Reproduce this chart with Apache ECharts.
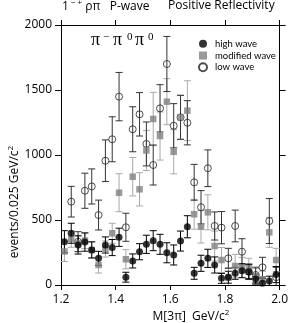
<!DOCTYPE html>
<html><head><meta charset="utf-8">
<script src="https://cdn.jsdelivr.net/npm/echarts@6/dist/echarts.min.js"></script>
<style>html,body{margin:0;padding:0;background:#fff}#c{width:291px;height:323px}</style>
</head><body><div id="c"></div>
<script>
// bin centres (GeV/c^2)
const masses = [1.2125,1.2375,1.2625,1.2875,1.3125,1.3375,1.3625,1.3875,1.4125,1.4375,1.4625,1.4875,1.5125,1.5375,1.5625,1.5875,1.6125,1.6375,1.6625,1.6875,1.7125,1.7375,1.7625,1.7875,1.8125,1.8375,1.8625,1.8875,1.9125,1.9375,1.9625,1.9875];
// high wave (filled circles)
const highWave = [333,398,308,330,270,205,308,288,367,60,185,256,313,341,313,248,231,338,448,90,167,205,154,51,60,90,110,102,46,13,30,80];
const highErr  = [85,77,70,70,62,54,62,62,70,38,54,62,70,77,77,77,77,77,85,46,62,70,62,38,46,46,54,54,38,38,38,62];
// modified wave (grey squares)
const modWave = [258,352,320,342,269,154,277,398,710,198,833,736,1035,1277,1146,1410,1025,1290,1341,544,448,559,300,192,56,146,136,128,64,44,405,192];
const modErr  = [77,62,62,62,62,62,62,77,146,74,148,128,154,205,185,177,170,170,230,115,125,135,115,96,77,90,77,77,62,62,115,90];
// low wave (open circles)
const lowWave = [null,641,333,725,758,538,956,1121,1449,444,1198,1313,1085,923,1359,1700,1225,1290,1248,790,598,898,454,441,205,454,256,102,77,136,492,60];
const lowErr  = [null,118,77,135,135,115,160,173,186,108,173,167,169,154,182,212,170,169,170,138,128,141,108,124,77,122,100,60,60,77,173,77];

const xTicks = [1.2,1.4,1.6,1.8,2.0];
const yTicks = [0,500,1000,1500,2000];

const FONT = 'Open Sans';
const chart = echarts.init(document.getElementById('c'), null, {renderer:'canvas'});

function pts(vals, errs){
  const out=[];
  masses.forEach((m,i)=>{ if(vals[i]!=null) out.push([m, vals[i], errs[i]]); });
  return out;
}
function errSeries(vals, errs, color, z){
  return {
    type:'custom', data: pts(vals, errs), z: z, silent:true, clip:true,
    encode:{x:0,y:1},
    renderItem:function(params, api){
      const x=api.value(0), y=api.value(1), e=api.value(2);
      const t=api.coord([x,y+e]), b=api.coord([x,y-e]);
      const hw=3.5;
      const st={stroke:color,lineWidth:1};
      return {type:'group', children:[
        {type:'line', shape:{x1:t[0],y1:t[1],x2:b[0],y2:b[1]}, style:st},
        {type:'line', shape:{x1:t[0]-hw,y1:t[1],x2:t[0]+hw,y2:t[1]}, style:st},
        {type:'line', shape:{x1:b[0]-hw,y1:b[1],x2:b[0]+hw,y2:b[1]}, style:st}
      ]};
    }
  };
}
function axisX(pos, showLabel){
  return {type:'value', position:pos, min:xTicks[0], max:xTicks[xTicks.length-1], interval:0.2,
    axisLine:{onZero:false, lineStyle:{color:'#000',width:1}},
    axisTick:{show:true, length:5, lineStyle:{color:'#000'}},
    splitLine:{show:false},
    axisLabel:{show:showLabel, color:'#000', fontSize:12, fontFamily:FONT, margin:9, formatter:v=>v.toFixed(1)}};
}
function axisY(pos, showLabel){
  return {type:'value', position:pos, min:yTicks[0], max:yTicks[yTicks.length-1], interval:500,
    axisLine:{show:true, onZero:false, lineStyle:{color:'#000',width:1}},
    axisTick:{show:true, length:6, lineStyle:{color:'#000'}},
    splitLine:{show:false},
    axisLabel:{show:showLabel, color:'#000', fontSize:12, fontFamily:FONT, margin:9, formatter:v=>String(v)}};
}

const option = {
  animation:false,
  backgroundColor:'#fff',
  grid:{left:61, right:7, top:25, bottom:38},
  xAxis:[axisX('bottom',true), axisX('top',false)],
  yAxis:[axisY('left',true), axisY('right',false)],
  legend:{
    orient:'vertical', left:198, top:38, itemWidth:8, itemHeight:8, itemGap:0, padding:0,
    textStyle:{fontSize:9.5, fontFamily:'Lato', color:'#000', lineHeight:11.7, padding:[0,0,0,3]},
    data:[{name:'high wave'},{name:'modified wave'},{name:'low wave'}]
  },
  series:[
    errSeries(modWave, modErr, '#a8a8a8', 1),
    errSeries(lowWave, lowErr, '#333', 2),
    errSeries(highWave, highErr, '#000', 3),
    {name:'low wave', type:'scatter', data: pts(lowWave, lowErr), symbol:'circle', symbolSize:7, z:4,
      itemStyle:{color:'rgba(255,255,255,0)', borderColor:'#222', borderWidth:1}},
    {name:'modified wave', type:'scatter', data: pts(modWave, modErr), symbol:'rect', symbolSize:6.5, z:5,
      itemStyle:{color:'#808080'}},
    {name:'high wave', type:'scatter', data: pts(highWave, highErr), symbol:'circle', symbolSize:7, z:6,
      itemStyle:{color:'#000'}}
  ],
  graphic:[
    {type:'text', left:62, top:-1, style:{
      text:'{a|1}{s| − +}{a| ρπ   P-wave}', fill:'#000',
      rich:{a:{fontSize:12, fontFamily:FONT, lineHeight:14, verticalAlign:'bottom'},
            s:{fontSize:8, fontFamily:FONT, lineHeight:14, verticalAlign:'top', padding:[0,0,3,0]}}}},
    {type:'text', left:168, top:-1, style:{text:'Positive Reflectivity', fontSize:12, fontFamily:FONT, fill:'#000', lineHeight:14}},
    // pi- pi0 pi0 label
    {type:'text', x:91, y:49, style:{text:'π', font:'18px "Liberation Serif"', fill:'#000', textVerticalAlign:'bottom'}},
    {type:'text', x:103, y:43, style:{text:'−', font:'11px "Liberation Serif"', fill:'#000', textVerticalAlign:'bottom'}},
    {type:'text', x:113, y:49, style:{text:'π', font:'18px "Liberation Serif"', fill:'#000', textVerticalAlign:'bottom'}},
    {type:'text', x:127, y:43, style:{text:'0', font:'11px "Liberation Serif"', fill:'#000', textVerticalAlign:'bottom'}},
    {type:'text', x:135, y:49, style:{text:'π', font:'18px "Liberation Serif"', fill:'#000', textVerticalAlign:'bottom'}},
    {type:'text', x:148, y:43, style:{text:'0', font:'11px "Liberation Serif"', fill:'#000', textVerticalAlign:'bottom'}},
    // y axis title
    {type:'text', x:14, y:202, rotation:Math.PI/2, style:{
      text:'{a|events/0.025 GeV/c}{s|2}', textAlign:'center', textVerticalAlign:'middle', fill:'#000',
      rich:{a:{fontSize:12, fontFamily:FONT, lineHeight:14, verticalAlign:'bottom'},
            s:{fontSize:8, fontFamily:FONT, lineHeight:14, verticalAlign:'top', padding:[0,0,4,0]}}}},
    // x axis title
    {type:'text', x:191, y:316, style:{
      text:'{a|M[3π]  GeV/c}{s|2}', textAlign:'center', textVerticalAlign:'middle', fill:'#000',
      rich:{a:{fontSize:12, fontFamily:FONT, lineHeight:14, verticalAlign:'bottom'},
            s:{fontSize:8, fontFamily:FONT, lineHeight:14, verticalAlign:'top', padding:[0,0,4,0]}}}}
  ]
};
chart.setOption(option);
</script>
</body></html>
